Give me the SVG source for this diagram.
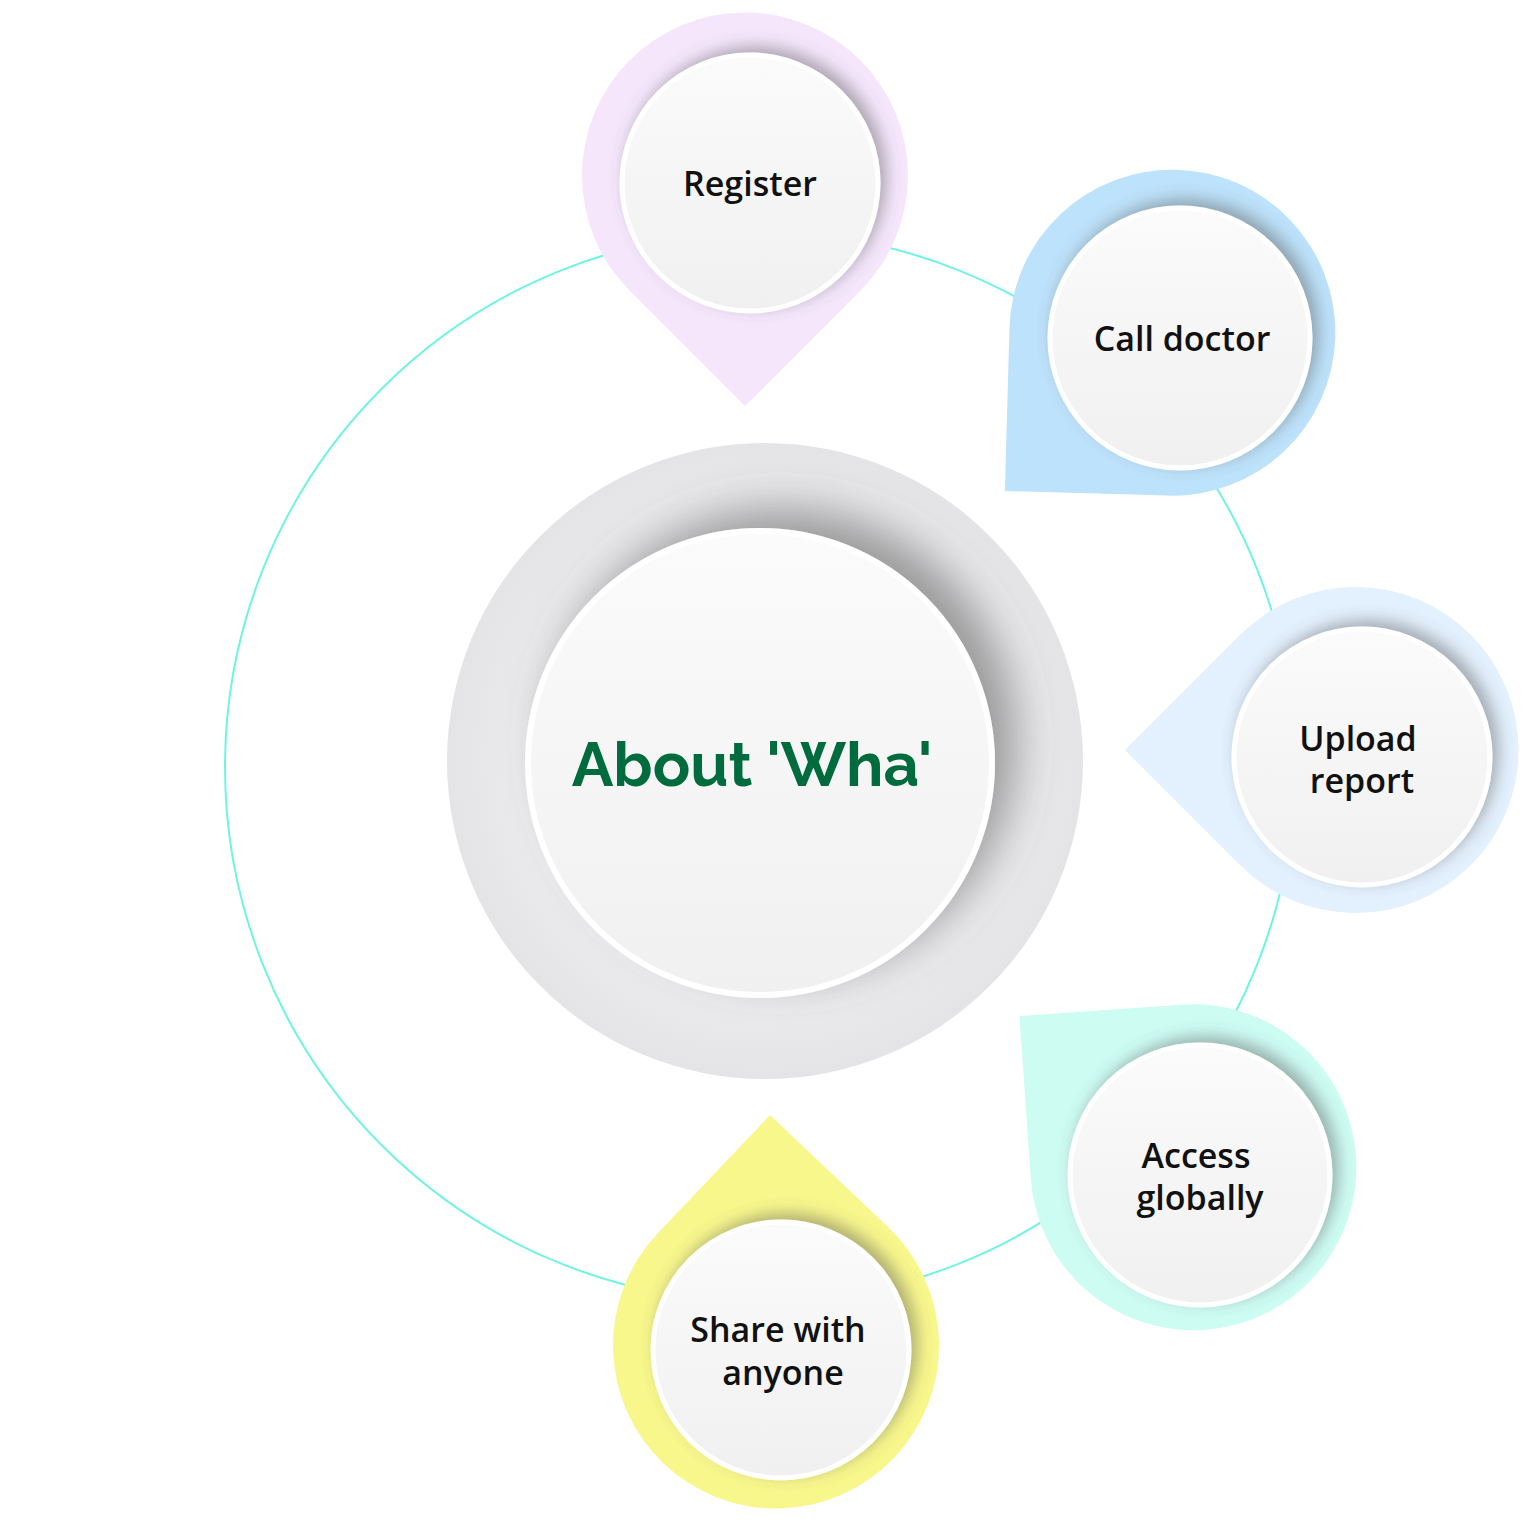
<svg xmlns="http://www.w3.org/2000/svg" width="1531" height="1531" viewBox="0 0 1531 1531">
<style>
.lbl{font-family:"Open Sans","Liberation Sans",sans-serif;font-weight:600;font-size:34px;fill:#111;text-anchor:middle}
.inner{fill:url(#ig);stroke:#fff;stroke-width:5;filter:url(#sh)}
</style>
<defs>
<linearGradient id="ig" x1="0" y1="0" x2="0" y2="1"><stop offset="0" stop-color="#fbfbfb"/><stop offset="1" stop-color="#f0f0f0"/></linearGradient>
<radialGradient id="og" cx="0.5" cy="0.5" r="0.5"><stop offset="0.6" stop-color="#f1f1f3"/><stop offset="1" stop-color="#e4e4e7"/></radialGradient>
<filter id="sh" x="-30%" y="-30%" width="160%" height="160%"><feDropShadow dx="6" dy="-6" stdDeviation="8" flood-color="#555" flood-opacity="0.45"/></filter>
<filter id="bsh" x="-30%" y="-30%" width="160%" height="160%"><feDropShadow dx="22" dy="-20" stdDeviation="22" flood-color="#555" flood-opacity="0.55"/></filter>
<path id="pin" d="M0 230 L115 115 A163 163 0 1 0 -115 115 Z"/>
</defs>
<g id="connectors"><circle cx="760" cy="767" r="535" fill="none" stroke="#6ff3e3" stroke-width="2"/></g>
<g id="center">
<circle cx="765" cy="761" r="318" fill="url(#og)"/>
<circle cx="760" cy="763" r="232" fill="url(#ig)" stroke="#fff" stroke-width="6" filter="url(#bsh)"/>
<text x="752" y="786" font-family="Raleway,'Open Sans','Liberation Sans',sans-serif" font-weight="700" font-size="62" fill="#006b3c" text-anchor="middle">About 'Wha'</text>
</g>
<g id="register"><use href="#pin" fill="#f5e6fc" transform="translate(745,176)"/><circle class="inner" cx="750" cy="183" r="128"/><text class="lbl" x="750" y="196">Register</text></g>
<g id="call"><use href="#pin" fill="#bde2fb" transform="translate(1172,333) rotate(46.6)"/><circle class="inner" cx="1180" cy="338" r="130"/><text class="lbl" x="1182" y="351">Call doctor</text></g>
<g id="upload"><use href="#pin" fill="#e3f0fd" transform="translate(1355,750) rotate(90)"/><circle class="inner" cx="1362" cy="757" r="128"/><text class="lbl" x="1358" y="751">Upload</text><text class="lbl" x="1362" y="793">report</text></g>
<g id="access"><use href="#pin" fill="#cdfcf3" transform="translate(1193,1167) rotate(131)"/><circle class="inner" cx="1200" cy="1175" r="130"/><text class="lbl" x="1196" y="1168">Access</text><text class="lbl" x="1200" y="1210">globally</text></g>
<g id="share"><use href="#pin" fill="#f8f78c" transform="translate(776,1345) rotate(178.5)"/><circle class="inner" cx="781" cy="1350" r="128"/><text class="lbl" x="778" y="1342">Share with</text><text class="lbl" x="783" y="1385">anyone</text></g>
</svg>
